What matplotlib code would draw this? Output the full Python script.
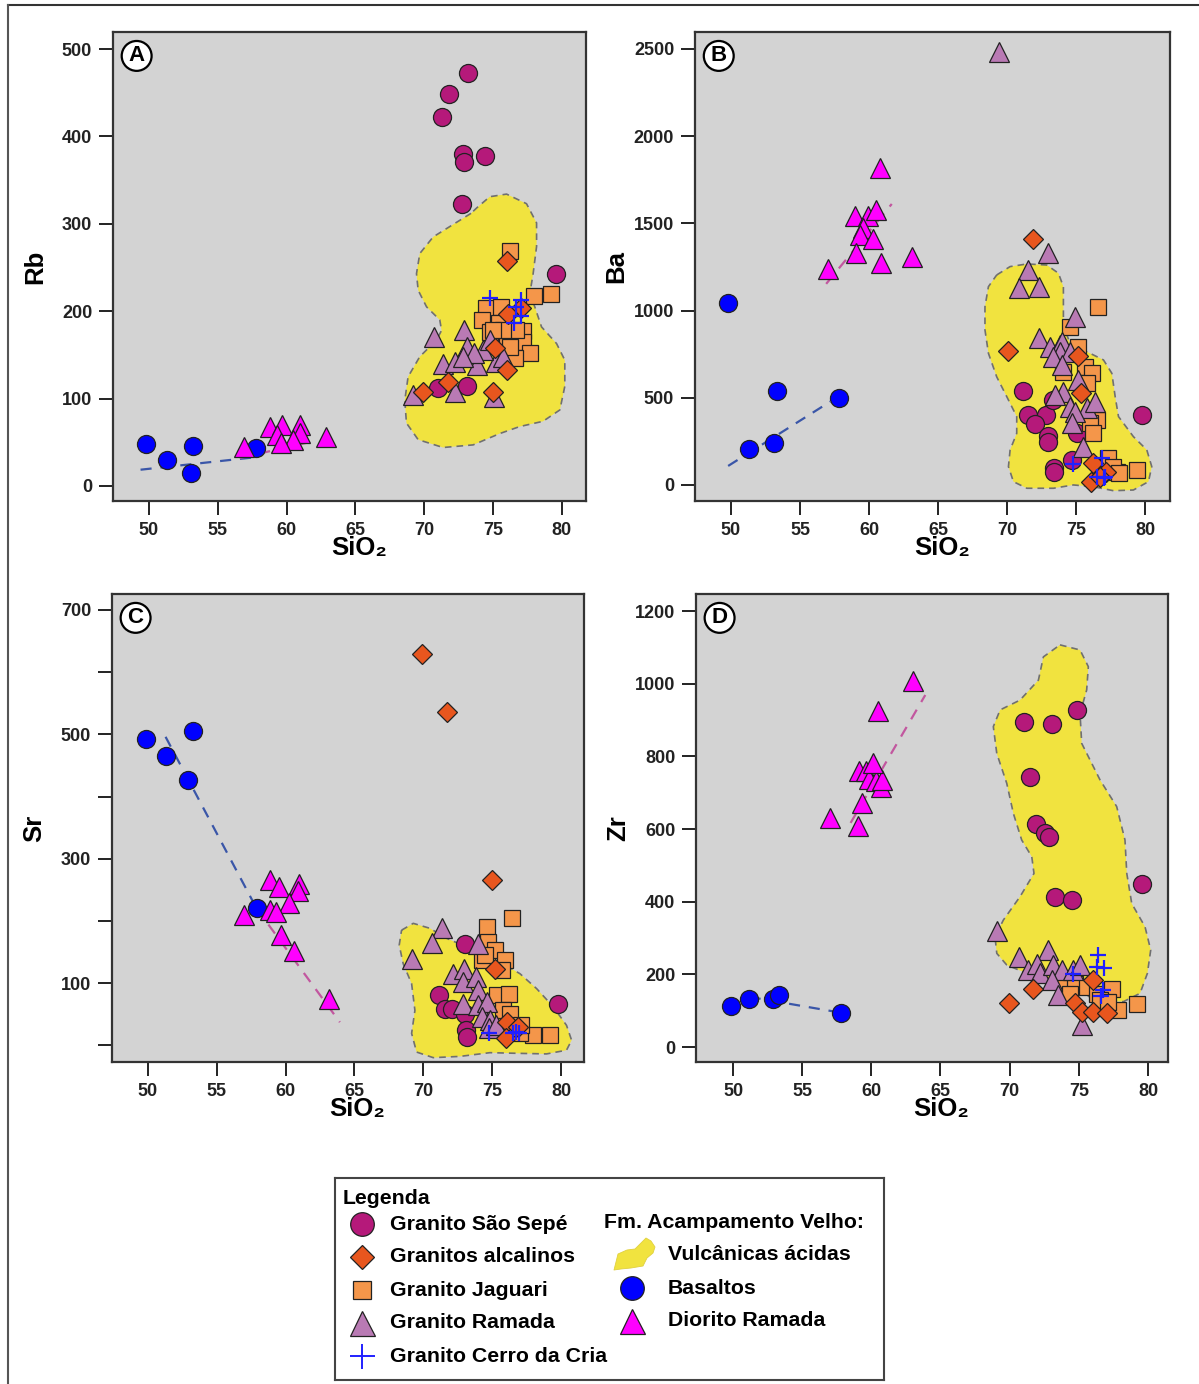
import matplotlib
matplotlib.use('Agg')
import matplotlib.pyplot as plt
from matplotlib.patches import Polygon
from matplotlib.lines import Line2D

plt.rcParams['font.family'] = ['Liberation Sans', 'DejaVu Sans']
plt.rcParams['font.weight'] = 'bold'
plt.rcParams['font.size'] = 13

# colours
SAO = '#b5197a'
ALC = '#e8561e'
JAG = '#f4964a'
RAM = '#b97ab4'
CRIA = '#2020ff'
VOLC = '#f1e33f'
BAS = '#0000ff'
DIO = '#ff00ff'
BG = '#d3d3d3'

# ---------------- Panel A : Rb ----------------
bas_A_si = [49.8, 51.3, 53.2, 53.1, 57.8]
bas_A_y = [48, 30, 46, 15, 43]
dio_A_si = [56.9, 58.8, 59.7, 61.0, 61.0, 60.5, 59.3, 59.6, 62.9]
dio_A_y = [45, 68, 70, 70, 61, 53, 58, 49, 56]
sao_A_si = [73.2, 71.8, 71.3, 72.8, 72.9, 74.4, 72.75, 79.6, 71.0, 73.1]
sao_A_y = [473, 448, 422, 380, 371, 378, 323, 243, 112, 114]
alc_A_si = [76.0, 77.0, 76.1, 75.15, 76.0, 71.7, 69.9, 75.0]
alc_A_y = [257, 204, 197, 158, 133, 119, 107, 108]
jag_A_si = [76.2, 78.0, 79.2, 74.5, 75.6, 74.2, 75.4, 74.8, 76.0, 77.2, 77.2, 77.7, 76.6,
            76.2, 76.7, 75.7, 75.0]
jag_A_y = [269, 217, 220, 204, 205, 190, 186, 176, 168, 177, 165, 152, 146, 159, 178, 178, 178]
ram_A_si = [70.7, 72.9, 73.1, 71.4, 72.2, 73.8, 75.2, 74.3, 74.8, 73.6, 72.8, 69.2, 72.2,
            75.1, 75.7]
ram_A_y = [170, 178, 159, 140, 142, 138, 142, 156, 167, 152, 148, 104, 108, 102, 148]
cria_A_si = [74.8, 77.0, 76.65, 77.0, 76.5]
cria_A_y = [215, 213, 205, 194, 186]
tb_A_si, tb_A_y = [49.4, 57.8], [18.6, 33]
td_A_si, td_A_y = [56.6, 62.2], [32, 52]
volc_A_si = [73.4, 70.65, 69.68, 69.44, 69.56, 70.17, 71.13, 71.26, 70.89, 69.68, 68.83,
             68.59, 68.71, 69.56, 71.37, 73.55, 75.49, 76.94, 78.63, 79.85, 80.21, 80.21,
             79.61, 78.52, 78.03, 77.67, 77.91, 78.16, 78.16, 77.43, 75.98, 74.76, 73.8]
volc_A_y = [312, 285, 266, 243, 224, 205, 190, 178, 167, 148, 125, 98, 72, 53, 44, 47, 60,
            68, 74, 87, 114, 144, 163, 182, 205, 220, 243, 274, 301, 323, 334, 331, 318]

# ---------------- Panel B : Ba ----------------
bas_B_si = [49.76, 53.36, 51.3, 53.14, 57.8]
bas_B_y = [1042, 541, 205, 243, 501]
dio_B_si = [60.8, 59.0, 59.9, 60.5, 59.6, 59.35, 60.3, 59.06, 60.87, 63.1, 57.0]
dio_B_y = [1816, 1542, 1542, 1577, 1472, 1433, 1409, 1332, 1271, 1306, 1237]
sao_B_si = [71.18, 71.55, 72.83, 72.03, 73.0, 73.0, 75.05, 74.69, 73.43, 73.43, 79.76, 73.36]
sao_B_y = [539, 401, 401, 348, 281, 249, 296, 143, 96, 76, 401, 487]
alc_B_si = [71.9, 70.05, 75.17, 75.34, 76.26, 77.2, 76.1, 76.7]
alc_B_y = [1411, 770, 740, 526, 124, 76, 19, 48]
jag_B_si = [76.57, 74.57, 75.17, 75.65, 76.14, 75.77, 74.08, 76.5, 76.0, 76.26, 77.34,
            77.95, 79.4, 77.7, 78.1]
jag_B_y = [1022, 908, 793, 678, 640, 583, 650, 373, 354, 296, 153, 76, 86, 105, 67]
ram_B_si = [69.4, 72.95, 71.55, 70.9, 72.3, 74.9, 72.3, 73.1, 73.84, 73.98, 73.84, 74.57,
            73.36, 73.96, 75.17, 74.08, 73.48, 74.57, 75.77, 76.38, 74.93, 74.69, 75.53]
ram_B_y = [2483, 1330, 1233, 1128, 1137, 965, 841, 793, 803, 822, 765, 765, 736, 688, 602,
           535, 516, 449, 440, 478, 420, 354, 220]
cria_B_si = [74.76, 76.86, 76.5, 77.0, 77.1]
cria_B_y = [118, 153, 48, 38, 48]
tb_B_si, tb_B_y = [49.8, 57.2], [109, 478]
td_B_si, td_B_y = [56.9, 61.65], [1153, 1611]
volc_B_si = [69.25, 70.22, 71.43, 72.88, 73.72, 74.08, 74.08, 74.08, 74.57, 75.77, 76.98,
             77.59, 77.83, 78.07, 79.15, 80.12, 80.48, 80.24, 79.15, 77.7, 76.25, 74.8,
             73.36, 71.43, 70.46, 70.1, 70.22, 70.7, 70.7, 69.98, 69.25, 68.65, 68.4, 68.4,
             68.65]
volc_B_y = [1204, 1252, 1267, 1261, 1214, 1137, 1022, 908, 812, 764, 717, 640, 506, 392,
            277, 201, 105, 19, -29, -33, -10, 0, -19, -19, 19, 105, 201, 296, 392, 506, 620,
            755, 889, 1022, 1137]

# ---------------- Panel C : Sr ----------------
bas_C_si = [49.83, 51.29, 53.29, 52.88, 57.89]
bas_C_y = [492, 465, 505, 426, 220]
dio_C_si = [58.86, 59.51, 60.97, 60.87, 60.26, 56.97, 58.86, 59.3, 59.66, 60.63, 63.17]
dio_C_y = [265, 255, 260, 248, 228, 209, 217, 214, 177, 152, 74]
sao_C_si = [73.02, 71.16, 71.57, 72.05, 73.02, 73.09, 73.15, 79.75]
sao_C_y = [162, 80, 59, 59, 51, 24, 13, 67]
alc_C_si = [69.87, 71.74, 74.98, 75.2, 76.05, 76.0, 76.9]
alc_C_y = [629, 536, 266, 123, 38, 11, 29]
jag_C_si = [76.41, 74.6, 74.7, 75.2, 74.23, 75.93, 75.69, 74.5, 75.32, 76.24, 75.8, 76.3,
            77.98, 79.2, 77.03, 77.1]
jag_C_y = [204, 190, 166, 153, 137, 137, 121, 145, 80, 83, 56, 51, 16, 16, 19, 32]
ram_C_si = [71.38, 70.6, 69.15, 73.99, 72.17, 72.95, 72.85, 73.82, 73.99, 72.91, 74.0, 74.6,
            74.23, 74.84, 74.8, 75.3]
ram_C_y = [188, 164, 139, 163, 115, 123, 102, 110, 88, 67, 64, 70, 46, 40, 27, 32]
cria_C_si = [74.79, 76.48, 76.96, 76.7]
cria_C_y = [20, 20, 20, 21]
tb_C_si, tb_C_y = [51.28, 57.89], [496, 220]
td_C_si, td_C_y = [57.89, 63.94], [220, 37]
volc_C_si = [68.42, 69.27, 70.48, 71.69, 73.14, 74.6, 75.8, 77.02, 78.23, 79.43, 80.4, 80.77,
             80.4, 78.95, 76.77, 74.84, 72.66, 70.72, 69.51, 69.15, 69.39, 69.15, 68.54,
             68.25]
volc_C_y = [185, 196, 188, 172, 158, 145, 131, 115, 91, 62, 32, 8, -8, -14, -13, -12, -18,
            -20, -11, 19, 56, 99, 131, 161]

# ---------------- Panel D : Zr ----------------
bas_D_si = [49.86, 51.16, 52.9, 53.3, 57.8]
bas_D_y = [113, 132, 132, 143, 94]
dio_D_si = [57.0, 59.0, 59.3, 59.1, 59.6, 59.8, 60.3, 60.7, 60.8, 60.5, 63.0, 60.1]
dio_D_y = [630, 608, 672, 760, 760, 738, 732, 716, 735, 925, 1007, 782]
sao_D_si = [71.04, 73.09, 74.9, 71.48, 71.89, 72.56, 72.87, 73.28, 74.49, 79.55]
sao_D_y = [895, 889, 928, 744, 613, 590, 579, 412, 405, 450]
alc_D_si = [69.96, 71.67, 76.05, 74.73, 75.21, 76.01, 77.02]
alc_D_y = [120, 159, 186, 120, 97, 97, 93]
jag_D_si = [74.0, 74.73, 75.57, 76.3, 77.38, 76.54, 77.86, 79.19, 74.37, 77.14]
jag_D_y = [180, 175, 166, 147, 161, 129, 102, 118, 147, 125]
ram_D_si = [69.11, 70.7, 72.75, 71.35, 71.96, 72.2, 73.16, 73.77, 74.6, 75.09, 73.04, 73.52,
            75.21]
ram_D_y = [320, 249, 267, 212, 230, 203, 226, 212, 212, 226, 184, 143, 61]
cria_D_si = [76.37, 76.83, 76.35, 74.56, 76.78, 76.63]
cria_D_y = [253, 217, 221, 201, 157, 140]
tb_D_si, tb_D_y = [51.2, 57.6], [138, 96]
td_D_si, td_D_y = [58.5, 63.9], [617, 969]
volc_D_si = [73.64, 75.09, 75.69, 75.57, 75.09, 75.21, 76.54, 77.74, 78.34, 78.47, 78.83,
             79.79, 80.2, 79.96, 79.43, 78.22, 76.54, 73.64, 71.24, 69.79, 69.07, 68.94,
             69.55, 70.75, 71.76, 71.6, 70.87, 70.27, 69.79, 69.07, 68.82, 69.31, 70.75,
             72.08, 72.44]
volc_D_y = [1107, 1093, 1047, 983, 918, 836, 735, 662, 570, 478, 395, 331, 267, 203, 148,
            125, 129, 166, 203, 226, 258, 304, 350, 414, 478, 524, 570, 643, 726, 808, 882,
            928, 955, 1010, 1074]

xticks = [50, 55, 60, 65, 70, 75, 80]


def draw_panel(ax, letter, ylabel, volc, bas, dio, sao, alc, jag, ram, cria, tb, td):
    ax.set_facecolor(BG)
    ax.add_patch(Polygon(list(zip(volc[0], volc[1])), closed=True, facecolor=VOLC,
                         edgecolor='#707070', linestyle=(0, (4, 3)), linewidth=1.2,
                         joinstyle='round', zorder=1))
    ax.plot(tb[0], tb[1], color='#3a56a8', linestyle=(0, (5, 4)), lw=1.6, zorder=2)
    ax.plot(td[0], td[1], color='#c2579f', linestyle=(0, (5, 4)), lw=1.6, zorder=2)
    mk = dict(linestyle='none', markeredgecolor='#222222', markeredgewidth=0.9)
    ax.plot(sao[0], sao[1], 'o', markersize=13, markerfacecolor=SAO, zorder=3, **mk)
    ax.plot(jag[0], jag[1], 's', markersize=11, markerfacecolor=JAG, zorder=4, **mk)
    ax.plot(ram[0], ram[1], '^', markersize=14, markerfacecolor=RAM, zorder=5, **mk)
    ax.plot(alc[0], alc[1], 'D', markersize=10.5, markerfacecolor=ALC, zorder=6, **mk)
    ax.plot(cria[0], cria[1], '+', markersize=11, markeredgewidth=1.6, color=CRIA,
            linestyle='none', zorder=7)
    ax.plot(bas[0], bas[1], 'o', markersize=13, markerfacecolor=BAS, zorder=4, **mk)
    ax.plot(dio[0], dio[1], '^', markersize=14, markerfacecolor=DIO, zorder=5, **mk)

    ax.set_xticks(xticks)
    ax.tick_params(direction='out', length=10, width=1.4, colors='#222222', pad=5,
                   labelsize=13)
    for s in ax.spines.values():
        s.set_linewidth(1.6)
        s.set_color('#333333')
    ax.set_xlabel('SiO₂', fontsize=18.5, fontweight='bold')
    ax.set_ylabel(ylabel, fontsize=18.5, fontweight='bold')
    ax.xaxis.set_label_coords(0.52, -0.075)
    ax.yaxis.set_label_coords(-0.14, 0.5)
    ax.text(0.05, 0.949, letter, transform=ax.transAxes, ha='center', va='center',
            fontsize=16, fontweight='bold', zorder=10,
            bbox=dict(boxstyle='circle,pad=0.2', facecolor='white', edgecolor='black',
                      linewidth=1.6))


fig = plt.figure(figsize=(11.99, 13.84), dpi=100)

axA = fig.add_axes([0.09425, 0.63801, 0.39450, 0.33887])
draw_panel(axA, 'A', 'Rb', (volc_A_si, volc_A_y), (bas_A_si, bas_A_y), (dio_A_si, dio_A_y),
           (sao_A_si, sao_A_y), (alc_A_si, alc_A_y), (jag_A_si, jag_A_y), (ram_A_si, ram_A_y),
           (cria_A_si, cria_A_y), (tb_A_si, tb_A_y), (td_A_si, td_A_y))
axA.set_xlim(47.4, 81.75)
axA.set_ylim(-17.2, 519.5)
axA.set_yticks([0, 100, 200, 300, 400, 500])

axB = fig.add_axes([0.57965, 0.63801, 0.39616, 0.33887])
draw_panel(axB, 'B', 'Ba', (volc_B_si, volc_B_y), (bas_B_si, bas_B_y), (dio_B_si, dio_B_y),
           (sao_B_si, sao_B_y), (alc_B_si, alc_B_y), (jag_B_si, jag_B_y), (ram_B_si, ram_B_y),
           (cria_B_si, cria_B_y), (tb_B_si, tb_B_y), (td_B_si, td_B_y))
axB.set_xlim(47.4, 81.8)
axB.set_ylim(-92, 2597)
axB.set_yticks([0, 500, 1000, 1500, 2000, 2500])

axC = fig.add_axes([0.09341, 0.23266, 0.39366, 0.33815])
draw_panel(axC, 'C', 'Sr', (volc_C_si, volc_C_y), (bas_C_si, bas_C_y), (dio_C_si, dio_C_y),
           (sao_C_si, sao_C_y), (alc_C_si, alc_C_y), (jag_C_si, jag_C_y), (ram_C_si, ram_C_y),
           (cria_C_si, cria_C_y), (tb_C_si, tb_C_y), (td_C_si, td_C_y))
axC.set_xlim(47.39, 81.67)
axC.set_ylim(-27, 725.7)
axC.set_yticks([0, 100, 200, 300, 400, 500, 600, 700])
axC.set_yticklabels(['', '100', '', '300', '', '500', '', '700'])

axD = fig.add_axes([0.58048, 0.23266, 0.39366, 0.33815])
draw_panel(axD, 'D', 'Zr', (volc_D_si, volc_D_y), (bas_D_si, bas_D_y), (dio_D_si, dio_D_y),
           (sao_D_si, sao_D_y), (alc_D_si, alc_D_y), (jag_D_si, jag_D_y), (ram_D_si, ram_D_y),
           (cria_D_si, cria_D_y), (tb_D_si, tb_D_y), (td_D_si, td_D_y))
axD.set_xlim(47.32, 81.45)
axD.set_ylim(-41, 1247)
axD.set_yticks([0, 200, 400, 600, 800, 1000, 1200])

# ---------------- legend (drawn by hand in pixel units of the box) ----------------
lg = fig.add_axes([335 / 1199, 1 - 1380 / 1384, 549 / 1199, 202 / 1384])
lg.set_xlim(0, 549)
lg.set_ylim(202, 0)
lg.set_xticks([])
lg.set_yticks([])
for s in lg.spines.values():
    s.set_linewidth(1.5)
    s.set_color('#444444')

fs = 15.3
lg.text(8, 20, 'Legenda', fontsize=fs, va='center', ha='left')
left_items = [('o', 17, SAO, 'Granito São Sepé'),
              ('D', 12, ALC, 'Granitos alcalinos'),
              ('s', 13, JAG, 'Granito Jaguari'),
              ('^', 18, RAM, 'Granito Ramada'),
              ('+', 18, CRIA, 'Granito Cerro da Cria')]
for i, (m, ms, c, lab) in enumerate(left_items):
    yy = 46 + 33 * i
    if m == '+':
        lg.plot([27], [yy], m, markersize=ms, color=c, markeredgewidth=1.4)
    else:
        lg.plot([27], [yy], m, markersize=ms, markerfacecolor=c, markeredgecolor='#222222',
                markeredgewidth=0.9)
    lg.text(55, yy, lab, fontsize=fs, va='center', ha='left')

lg.text(269, 44, 'Fm. Acampamento Velho:', fontsize=fs, va='center', ha='left')
blob_x = [280, 283, 292, 300, 305, 311, 316, 320, 318, 312, 308, 296, 286, 279]
blob_y = [88, 76, 72, 71, 66, 60, 63, 69, 75, 80, 88, 90, 91, 92]
lg.add_patch(Polygon(list(zip(blob_x, blob_y)), closed=True, facecolor=VOLC,
                     edgecolor='#e0d040', lw=0.6, joinstyle='round'))
lg.text(333, 76, 'Vulcânicas ácidas', fontsize=fs, va='center', ha='left')
lg.plot([297], [110], 'o', markersize=17, markerfacecolor=BAS, markeredgecolor='#222222',
        markeredgewidth=0.9)
lg.text(333, 110, 'Basaltos', fontsize=fs, va='center', ha='left')
lg.plot([297], [143], '^', markersize=18, markerfacecolor=DIO, markeredgecolor='#222222',
        markeredgewidth=0.9)
lg.text(333, 143, 'Diorito Ramada', fontsize=fs, va='center', ha='left')

# frame lines on top and left of the page
fig.add_artist(Line2D([8 / 1199, 1.0], [1 - 5 / 1384, 1 - 5 / 1384], color='#333333',
                      lw=1.5, transform=fig.transFigure))
fig.add_artist(Line2D([8 / 1199, 8 / 1199], [0.0, 1 - 5 / 1384], color='#555555',
                      lw=1.5, transform=fig.transFigure))

fig.savefig('out.png', dpi=100)
